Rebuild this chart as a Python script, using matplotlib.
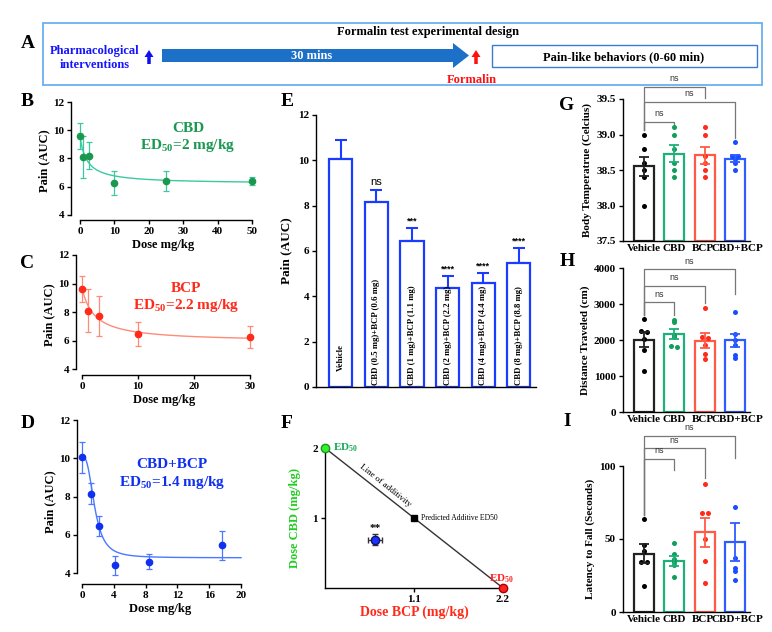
import numpy as np
import matplotlib
matplotlib.use('Agg')
import matplotlib.pyplot as plt
from matplotlib.patches import Rectangle, Polygon, FancyArrow

plt.rcParams['font.family'] = ['Liberation Serif', 'DejaVu Serif']
plt.rcParams['font.weight'] = 'bold'
plt.rcParams['axes.labelweight'] = 'bold'
plt.rcParams['mathtext.default'] = 'regular'
plt.rcParams['axes.linewidth'] = 1.0

# ---- data ----
# B, C, D: dose-response (mean, sem)
cbd_dose = [0, 1, 2.5, 10, 25, 50]
cbd_pain = [9.6, 8.1, 8.2, 6.25, 6.4, 6.4]
cbd_err = [0.9, 1.5, 0.95, 0.85, 0.7, 0.3]

bcp_dose = [0, 1, 3, 10, 30]
bcp_pain = [9.6, 8.1, 7.7, 6.45, 6.25]
bcp_err = [0.9, 1.5, 1.4, 0.87, 0.77]

mix_dose = [0, 1.1, 2.1, 4.2, 8.4, 17.6]
mix_pain = [10.05, 8.15, 6.45, 4.4, 4.6, 5.45]
mix_err = [0.8, 0.55, 0.52, 0.5, 0.4, 0.75]

# fitted curve parameters (top, bottom, ec50, hill)
cbd_fit = (9.6, 6.2, 2.0, 1.0)
bcp_fit = (9.7, 5.9, 2.2, 1.0)
mix_fit = (10.1, 4.8, 1.6, 2.8)

# E: combination doses
e_labels = ['Vehicle', 'CBD (0.5 mg)+BCP (0.6 mg)', 'CBD (1 mg)+BCP (1.1 mg)',
            'CBD (2 mg)+BCP (2.2 mg)', 'CBD (4 mg)+BCP (4.4 mg)', 'CBD (8 mg)+BCP (8.8 mg)']
e_mean = [10.05, 8.15, 6.45, 4.38, 4.6, 5.47]
e_sem = [0.85, 0.55, 0.55, 0.52, 0.43, 0.66]
e_sig = ['', 'ns', '***', '****', '****', '****']

# F: isobologram
cbd_ed50 = 2.0
bcp_ed50 = 2.2
pred_bcp, pred_cbd = 1.1, 1.0
obs_bcp, obs_cbd = 0.62, 0.69
obs_bcp_err, obs_cbd_err = 0.09, 0.08

# G, H, I: side effects
groups = ['Vehicle', 'CBD', 'BCP', 'CBD+BCP']
temp_pts = [[39.0, 38.8, 38.6, 38.5, 38.4, 38.0],
            [39.1, 39.0, 38.8, 38.6, 38.5, 38.4],
            [39.1, 39.0, 38.7, 38.6, 38.5, 38.4],
            [38.9, 38.7, 38.7, 38.65, 38.6, 38.5]]
temp_mean = [38.55, 38.73, 38.71, 38.66]
temp_sem = [0.14, 0.12, 0.12, 0.05]

dist_pts = [[2580, 2260, 2220, 2030, 1720, 1150],
            [2560, 2490, 2150, 2080, 1820, 1800],
            [2880, 2080, 2060, 1850, 1600, 1480],
            [2790, 2180, 1990, 1850, 1580, 1490]]
dist_mean = [2010, 2160, 1975, 1990]
dist_sem = [200, 140, 210, 190]

lat_pts = [[64, 46, 42, 34, 34, 18],
           [47, 40, 36, 34, 32, 24],
           [88, 68, 68, 50, 35, 20],
           [72, 37, 30, 28, 22]]
lat_mean = [40, 35, 54.5, 48]
lat_sem = [6.5, 3.5, 10, 13]

# brackets: (right group, line level, right leg end)
temp_br = [(1, 39.18, 39.14), (3, 39.46, 38.95), (2, 39.67, 39.51)]
dist_br = [(1, 3046, 2700), (2, 3505, 3020), (3, 3963, 3290)]
lat_br = [(1, 104.8, 97), (2, 112, 91.5), (3, 120.7, 105.5)]

grp_colors = ['#222222', '#1fb07a', '#ff5a45', '#2f5cff']
dot_colors = ['#000000', '#119e5a', '#ff2a1a', '#1a4dff']

W, H = 772, 632
fig = plt.figure(figsize=(W / 100, H / 100), dpi=100)


def box(x0, y0, x1, y1):
    return fig.add_axes([x0 / W, 1 - y1 / H, (x1 - x0) / W, (y1 - y0) / H])


def hill(x, p):
    top, bot, ec, h = p
    return bot + (top - bot) / (1 + (x / ec) ** h)


def style(ax, fs=8):
    for s in ['top', 'right']:
        ax.spines[s].set_visible(False)
    ax.tick_params(direction='out', length=3, width=1, labelsize=fs, pad=2)


# overlay for panel A and letters
ov = fig.add_axes([0, 0, 1, 1])
ov.set_xlim(0, W)
ov.set_ylim(H, 0)
ov.axis('off')

ov.add_patch(Rectangle((43, 23), 719, 62, fill=False, ec='#6ab0ee', lw=1.3))
ov.text(428, 32, 'Formalin test experimental design', ha='center', va='center', fontsize=9)
ov.text(95, 58, 'Pharmacological\ninterventions', ha='center', va='center', fontsize=9,
        color='#1515ff', linespacing=1.15)
ov.add_patch(FancyArrow(149, 64, 0, -14, width=3.5, head_width=9, head_length=7,
                        length_includes_head=True, color='#1010ee', lw=0))
ov.add_patch(Polygon([(162, 49), (453, 49), (453, 43), (469, 55.5), (453, 68), (453, 62), (162, 62)],
                     closed=True, fc='#1c70c8', ec='none'))
ov.text(312, 56, '30 mins', ha='center', va='center', fontsize=9, color='white')
ov.add_patch(FancyArrow(476, 64, 0, -14, width=3.5, head_width=9, head_length=7,
                        length_includes_head=True, color='#ff1010', lw=0))
ov.add_patch(Rectangle((492, 45), 265, 22, fill=False, ec='#3a7bd5', lw=1.0))
ov.text(624, 57, 'Pain-like behaviors (0-60 min)', ha='center', va='center', fontsize=9)
ov.text(472, 80, 'Formalin', ha='center', va='center', fontsize=9, color='#ff1010')

for lab, x, y in [('A', 28, 44), ('B', 27, 102), ('C', 27, 264), ('D', 28, 424),
                  ('E', 287, 102), ('F', 287, 424), ('G', 567, 105), ('H', 567, 262),
                  ('I', 567, 422)]:
    ov.text(x, y, lab, ha='center', va='center', fontsize=14)


# ---- B, C, D ----
def dose_panel(rect, dose, pain, err, fit, xmax, xlim, ylim, xticks, col_dot, col_line,
               name, ed, txt_xy):
    ax = box(*rect)
    xs = np.linspace(0, xmax, 300)
    ax.plot(xs, hill(xs, fit), color=col_line, lw=1.0)
    ax.errorbar(dose, pain, yerr=err, fmt='o', ms=4.5, color=col_dot, ecolor=col_line,
                elinewidth=0.9, capsize=2.5, capthick=0.9, clip_on=False)
    ax.set_xlim(*xlim)
    ax.set_ylim(*ylim)
    ax.set_xticks(xticks)
    ax.set_yticks([4, 6, 8, 10, 12])
    ax.spines['left'].set_bounds(4, 12)
    ax.spines['bottom'].set_bounds(xticks[0], xticks[-1])
    style(ax)
    ax.set_ylabel('Pain (AUC)', fontsize=9, labelpad=2)
    ax.set_xlabel('Dose mg/kg', fontsize=9, labelpad=2)
    fx = (txt_xy[0] - rect[0]) / (rect[2] - rect[0])
    fy = 1 - (txt_xy[1] - rect[1]) / (rect[3] - rect[1])
    ax.text(fx, fy, name + '\nED$_{50}$=' + ed + ' mg/kg', transform=ax.transAxes,
            ha='center', va='center', fontsize=11, color=col_dot, linespacing=1.25)
    return ax


dose_panel((71, 102, 255, 220), cbd_dose, cbd_pain, cbd_err, cbd_fit, 50, (-2.6, 50.9),
           (3.64, 12), [0, 10, 20, 30, 40, 50], '#1a9850', '#3cc9a0', 'CBD', '2', (188, 138))
dose_panel((76, 255, 252, 375), bcp_dose, bcp_pain, bcp_err, bcp_fit, 30, (-1.07, 30.4),
           (3.58, 12), [0, 10, 20, 30], '#ff2a1a', '#ff8a78', 'BCP', '2.2', (186, 298))
dose_panel((77, 420, 243, 584), mix_dose, mix_pain, mix_err, mix_fit, 20, (-0.63, 20.25),
           (3.43, 12), [0, 4, 8, 12, 16, 20], '#1030f0', '#4a78ff', 'CBD+BCP', '1.4', (172, 474))

# ---- E ----
axE = box(316, 115, 536, 387)
xe = np.arange(len(e_mean))
axE.bar(xe, e_mean, width=0.65, facecolor='white', edgecolor='#1a3cff', lw=1.6, zorder=2)
axE.errorbar(xe, e_mean, yerr=[np.zeros(len(e_sem)), e_sem], fmt='none', ecolor='#1a3cff',
             elinewidth=1.5, capsize=4.5, capthick=1.5, zorder=1)
for i in range(len(e_mean)):
    if e_sig[i]:
        axE.text(xe[i], e_mean[i] + e_sem[i] + 0.12, e_sig[i], ha='center', va='bottom',
                 fontsize=8 if e_sig[i] == 'ns' else 6.5, family='Liberation Sans',
                 fontweight='normal' if e_sig[i] == 'ns' else 'bold')
    if i == 0:
        axE.text(xe[i], 1.3, e_labels[i], rotation=90, ha='center', va='center', fontsize=6.3)
    else:
        axE.text(xe[i], 0.08, e_labels[i], rotation=90, ha='center', va='bottom', fontsize=6.3)
axE.set_xlim(-0.69, 5.48)
axE.set_ylim(0, 12)
axE.set_yticks(range(0, 13, 2))
axE.set_xticks([])
style(axE)
axE.set_ylabel('Pain (AUC)', fontsize=9.5, labelpad=4)

# ---- F ----
axF = box(325, 448, 503, 588)
axF.plot([0, bcp_ed50], [cbd_ed50, 0], color='#333333', lw=1.0, zorder=1)
axF.plot([0], [cbd_ed50], 'o', ms=6, mfc='#33ee33', mec='#149a14', clip_on=False, zorder=3)
axF.plot([bcp_ed50], [0], 'o', ms=6, mfc='#ff2222', mec='#aa0000', clip_on=False, zorder=3)
axF.plot([pred_bcp], [pred_cbd], 's', ms=5, color='black', zorder=3)
axF.errorbar([obs_bcp], [obs_cbd], xerr=obs_bcp_err, yerr=obs_cbd_err, fmt='o', ms=6,
             mfc='#1a33ff', mec='#111166', ecolor='#333333', elinewidth=0.9, capsize=2,
             zorder=3)
axF.text(obs_bcp, obs_cbd + obs_cbd_err + 0.01, '**', ha='center', va='bottom', fontsize=8)
axF.text(0.1, cbd_ed50, 'ED$_{50}$', color='#11aa55', fontsize=8, va='center', ha='left')
axF.text(2.03, 0.13, 'ED$_{50}$', color='#ff2222', fontsize=8, va='center', ha='left')
axF.text(pred_bcp + 0.09, pred_cbd, 'Predicted Additive ED50', fontsize=5.5, va='center',
         ha='left', fontweight='normal')
axF.text(0.74, 1.47, 'Line of additivity', rotation=-38.5, fontsize=6.5, ha='center',
         va='center', fontweight='normal')
axF.set_xlim(0, 2.2)
axF.set_ylim(0, 2)
axF.set_xticks([1.1, 2.2])
axF.set_xticklabels(['1.1', '2.2'])
axF.set_yticks([1, 2])
style(axF)
axF.set_xlabel('Dose BCP (mg/kg)', fontsize=10, color='#ff2a1a', labelpad=1)
axF.set_ylabel('Dose CBD (mg/kg)', fontsize=9, color='#22cc22', labelpad=8)


# ---- G, H, I ----
def swarm(vals, tol, step):
    vals = np.asarray(vals, float)
    order = np.argsort(-vals)
    offs = np.zeros(len(vals))
    grp = []
    for i in order:
        if grp and abs(vals[grp[-1][-1]] - vals[i]) < tol:
            grp[-1].append(i)
        else:
            grp.append([i])
    for g in grp:
        n = len(g)
        for k, i in enumerate(g):
            offs[i] = (k - (n - 1) / 2) * step
    return offs


def group_panel(rect, means, sems, pts, ylim, yticks, ylabel, brackets, left_bottom, tol):
    ax = box(*rect)
    rng = ylim[1] - ylim[0]
    for i in range(4):
        ax.bar(i, means[i] - ylim[0], bottom=ylim[0], width=0.66, facecolor='white',
               edgecolor=grp_colors[i], lw=1.6, zorder=2)
        ax.errorbar(i, means[i], yerr=sems[i], color=grp_colors[i], capsize=3.5,
                    elinewidth=1.3, capthick=1.3, zorder=4)
        offs = swarm(pts[i], tol, 0.2)
        ax.scatter(i + offs, pts[i], s=13, color=dot_colors[i], zorder=3, lw=0, clip_on=False)
    for j, y, rb in brackets:
        ax.plot([0, 0, j, j], [left_bottom, y, y, rb], color='#777777', lw=0.9,
                clip_on=False, zorder=1)
        ax.text(j / 2, y + 0.025 * rng, 'ns', ha='center', va='bottom', fontsize=6.5,
                family='Liberation Sans', fontweight='normal', color='#333333')
    ax.set_xlim(-0.69, 3.5)
    ax.set_ylim(*ylim)
    ax.set_yticks(yticks)
    # label slots nudged apart slightly so the long last label fits
    ax.set_xticks([0, 1, 1.95, 3.1])
    ax.set_xticklabels(groups, fontsize=5.2)
    style(ax)
    ax.tick_params(axis='x', length=0, pad=2)
    ax.set_ylabel(ylabel, fontsize=8, labelpad=3)
    return ax


axG = group_panel((623, 99, 750, 241), temp_mean, temp_sem, temp_pts, (37.5, 39.5),
                  [37.5, 38.0, 38.5, 39.0, 39.5], 'Body Temperatrue (Celcius)', temp_br,
                  39.06, 0.03)
axG.set_yticklabels(['37.5', '38.0', '38.5', '39.0', '39.5'])
group_panel((623, 268, 750, 412), dist_mean, dist_sem, dist_pts, (0, 4000),
            [0, 1000, 2000, 3000, 4000], 'Distance Traveled (cm)', dist_br, 2700, 60)
group_panel((623, 466, 750, 612), lat_mean, lat_sem, lat_pts, (0, 100),
            [0, 50, 100], 'Latency to Fall (Seconds)', lat_br, 66.4, 1.5)

fig.savefig('out.png', dpi=100)
